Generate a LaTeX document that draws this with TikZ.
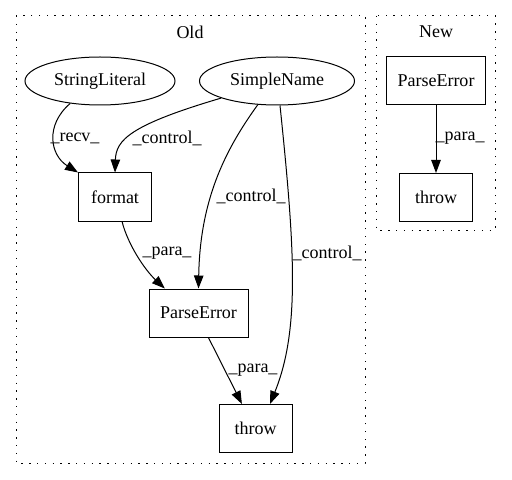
\documentclass[tikz,border=0pt]{standalone}
\usepackage{fontspec}
\setmainfont{Liberation Serif}
\usetikzlibrary{arrows.meta,shapes.geometric,calc}
\begin{document}
\begin{tikzpicture}[x=1bp,y=-1bp,
  every node/.style={font=\fontsize{18bp}{21bp}\selectfont},
  cluster/.style={draw,line width=1bp,dash pattern=on 1.3bp off 6.5bp},
  ell/.style={draw,ellipse,inner sep=0pt,line width=1bp},
  box/.style={draw,rectangle,inner sep=0pt,line width=1bp,minimum height=48bp},
  edge/.style={draw,line width=1bp,-{Triangle[length=13bp,width=9.5bp]}},
  lab/.style={inner sep=0pt}]
\useasboundingbox (0,0) rectangle (512,480);
% clusters
\draw[cluster] (16,16) rectangle (365,463);
\draw[cluster] (376,16) rectangle (495,230);
\node[lab] (oldlab) at (190,32) {Old};
\node[lab] (newlab) at (436,32) {New};
% Old nodes
\node[ell,minimum width=150bp,minimum height=48bp] (sl) at (100,81) {StringLiteral};
\node[ell,minimum width=155bp,minimum height=48bp] (sn) at (277,81) {SimpleName};
\node[box,minimum width=73bp] (fmt) at (115,197) {format};
\node[box,minimum width=99bp] (pe) at (198.5,313) {ParseError};
\node[box,minimum width=73bp] (th) at (255.5,428.5) {throw};
% New nodes
\node[box,minimum width=99bp] (npe) at (436,81) {ParseError};
\node[box,minimum width=73bp] (nth) at (436,197.5) {throw};
% edges
\draw[edge] (sl.217) .. controls (45,125) and (50,155) .. (fmt.north west);
\draw[edge] (sn.197) .. controls (130,125) and (116,140) .. (fmt.north);
\draw[edge] (sn.231) .. controls (225,150) and (200,200) .. (pe.north);
\draw[edge] (sn.-83) .. controls (295,250) and (300,330) .. ($(th.north)+(14.5,0)$);
\draw[edge] (fmt.-74) .. controls (128,245) and (145,270) .. (pe.144);
\draw[edge] (pe.-68) -- (th.119);
\draw[edge] (npe.south) -- (nth.north);
% labels
\node[lab] (l1) at (75,138) {\_recv\_};
\node[lab] (l2) at (167,138) {\_control\_};
\node[lab] (l3) at (251,196) {\_control\_};
\node[lab] (l4) at (327,253) {\_control\_};
\node[lab] (l5) at (167,253) {\_para\_};
\node[lab] (l6) at (253,370) {\_para\_};
\node[lab] (l7) at (460,138) {\_para\_};
\end{tikzpicture}
\end{document}
